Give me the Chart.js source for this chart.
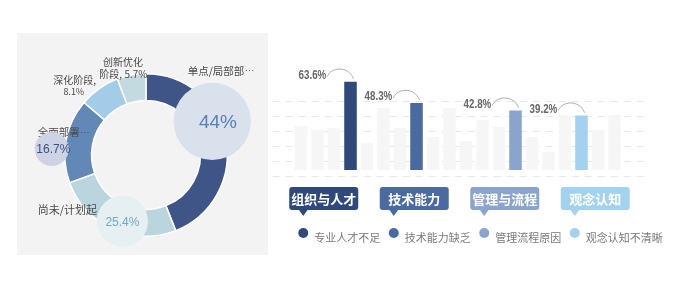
<!DOCTYPE html>
<html>
<head>
<meta charset="utf-8">
<script src="https://cdn.jsdelivr.net/npm/chart.js@4.4.1/dist/chart.umd.min.js"></script>
<style>
  html, body { margin: 0; padding: 0; background: #fff; width: 680px; height: 297px; overflow: hidden; }
  #pieBox { position: absolute; left: 17px; top: 33px; width: 251px; height: 222px; background: #f3f3f3; }
  #barBox { position: absolute; left: 270px; top: 0; width: 410px; height: 297px; }
</style>
</head>
<body>
<div id="pieBox"><canvas id="pie" width="251" height="222"></canvas></div>
<div id="barBox"><canvas id="bar" width="410" height="297"></canvas></div>
<script>
// 阶段分布
const stageLabels = ['单点/局部部署', '尚未/计划起步', '全面部署', '深化阶段', '创新优化阶段'];
const stageValues = [44, 25.4, 16.7, 8.1, 5.7];
const stageColors = ['#3f5588', '#bad5dd', '#6188b7', '#a3cce8', '#c3dae1'];

// 原因分布
const reasonGroups = ['组织与人才', '技术能力', '管理与流程', '观念认知'];
const reasonLabels = ['专业人才不足', '技术能力缺乏', '管理流程原因', '观念认知不清晰'];
const reasonValues = [63.6, 48.3, 42.8, 39.2];
const reasonColors = ['#2f4a7a', '#4a6aa2', '#8aa4cd', '#a3d2f0'];

// 背景装饰柱 (20 个位置), 真实柱在 reasonSlots
const slotBg = [31.7, 29, 30, null, 19.4, 44.6, 30.2, null, 23.8, 44.6, 20.9, 36, 31, null, 23.8, 13, 39.6, null, 28.8, 39.6];
const reasonSlots = [3, 7, 13, 17];

const CJK = '"Noto Sans CJK SC", "Noto Sans", sans-serif';
const LAT = '"Liberation Sans", Arial, sans-serif';

// === 环形图 ===
const pieNotes = [
  { text: stageLabels[0].slice(0, 6), more: true, dx: 0.92, dy: -1.037, align: 'center', size: 10.5 },
  { text: stageLabels[1].slice(0, 6), dx: -1.333, dy: 0.679, align: 'left', size: 11 },
  { text: stageLabels[2], more: true, dx: -1.333, dy: -0.284, align: 'left', size: 10.5 },
  { text: stageLabels[3] + ',', dx: -0.877, dy: -0.926, align: 'center', size: 10 },
  { text: stageValues[3] + '%', dx: -0.889, dy: -0.778, align: 'center', size: 9 },
  { text: stageLabels[4].slice(0, 4), dx: -0.284, dy: -1.148, align: 'center', size: 10 },
  { text: stageLabels[4].slice(4) + ', ' + stageValues[4] + '%', dx: -0.278, dy: -1.0, align: 'center', size: 10 }
];

const pieBubbles = [
  { i: 0, dx: 0.815, dy: -0.414, r: 0.475, tx: 0.07, fill: '#d8e1ec', color: '#5b80b5', font: '19px ' + LAT },
  { i: 1, dx: -0.29, dy: 0.815, r: 0.315, tx: 0, fill: '#e6eff2', color: '#6eaac4', font: '12px ' + LAT },
  { i: 2, dx: -1.16, dy: -0.074, r: 0.21, tx: 0.02, fill: '#cdd2e4', color: '#3d4f86', font: '12px ' + LAT }
];

const pieDecor = {
  id: 'pieDecor',
  afterDatasetsDraw(chart) {
    const ctx = chart.ctx;
    const arc = chart.getDatasetMeta(0).data[0];
    const cx = arc.x, cy = arc.y, R = arc.outerRadius;
    ctx.save();
    ctx.textBaseline = 'middle';
    ctx.textAlign = 'left';
    ctx.fillStyle = '#4a4a4a';
    pieNotes.forEach(n => {
      const fMain = n.size + 'px ' + CJK, fDots = (n.size - 1) + 'px ' + LAT;
      ctx.font = fMain;
      const w1 = ctx.measureText(n.text).width;
      ctx.font = fDots;
      const w2 = n.more ? ctx.measureText('···').width : 0;
      let x = cx + n.dx * R;
      const y = cy + n.dy * R;
      if (n.align === 'center') x -= (w1 + w2) / 2;
      ctx.font = fMain;
      ctx.fillText(n.text, x, y);
      if (n.more) {
        ctx.font = fDots;
        ctx.fillText('···', x + w1 + 0.5, y);
      }
    });
    pieBubbles.forEach(b => {
      const x = cx + b.dx * R, y = cy + b.dy * R;
      ctx.beginPath();
      ctx.arc(x, y, b.r * R, 0, Math.PI * 2);
      ctx.fillStyle = b.fill;
      ctx.fill();
      ctx.fillStyle = b.color;
      ctx.font = b.font;
      ctx.textAlign = 'center';
      ctx.fillText(stageValues[b.i] + '%', x + b.tx * R, y + 1);
    });
    ctx.restore();
  }
};

new Chart(document.getElementById('pie'), {
  type: 'doughnut',
  data: {
    labels: stageLabels,
    datasets: [{ data: stageValues, backgroundColor: stageColors, borderColor: '#ffffff', borderWidth: 1.5 }]
  },
  options: {
    responsive: false,
    animation: false,
    cutout: '67%',
    layout: { padding: { left: 47, right: 40, top: 40, bottom: 18 } },
    plugins: { legend: { display: false }, tooltip: { enabled: false } }
  },
  plugins: [pieDecor]
});

// === 柱状图 ===
const slotValues = slotBg.map((_, i) => { const k = reasonSlots.indexOf(i); return k < 0 ? null : reasonValues[k]; });
const slotColors = slotBg.map((_, i) => { const k = reasonSlots.indexOf(i); return k < 0 ? 'transparent' : reasonColors[k]; });

const barDecor = {
  id: 'barDecor',
  beforeDatasetsDraw(chart) {
    const { ctx, chartArea: a } = chart;
    const g = chart.scales.g;
    ctx.save();
    ctx.strokeStyle = '#e8e8e8';
    ctx.lineWidth = 1;
    ctx.setLineDash([7, 6]);
    for (let k = 0; k <= 5; k++) {
      const y = Math.round(g.getPixelForValue(k)) + 0.5;
      ctx.beginPath();
      ctx.moveTo(a.left - 20, y);
      ctx.lineTo(a.right + 25, y);
      ctx.stroke();
    }
    ctx.restore();
  },
  afterDatasetsDraw(chart) {
    const { ctx, chartArea: a } = chart;
    const meta = chart.getDatasetMeta(0);
    ctx.save();
    reasonSlots.forEach((s, i) => {
      const el = meta.data[s];
      const rx = el.x - el.width / 2 - 18, my = el.y - 6;

      // 连线
      ctx.strokeStyle = '#9a9a9a';
      ctx.lineWidth = 0.8;
      ctx.beginPath();
      ctx.moveTo(rx + 1, my + 1);
      ctx.bezierCurveTo(rx + 5, my - 9, el.x - 2, my - 10, el.x + 3, el.y - 3);
      ctx.stroke();

      // 数值
      ctx.save();
      ctx.translate(rx, my);
      ctx.scale(0.75, 1);
      ctx.font = 'bold 13px "Liberation Sans Narrow", "Liberation Sans", sans-serif';
      ctx.fillStyle = '#666';
      ctx.textAlign = 'right';
      ctx.textBaseline = 'middle';
      ctx.fillText(reasonValues[i].toFixed(1) + '%', 0, 0);
      ctx.restore();

      // 分类标签框
      const bx = a.left - 3.5 + i * 90.5, by = 187, bw = 69, bh = 23;
      const px = bx + 14;
      ctx.fillStyle = reasonColors[i];
      ctx.beginPath();
      ctx.roundRect(bx, by, bw, bh, 3);
      ctx.fill();
      ctx.beginPath();
      ctx.moveTo(px - 5, by + bh - 1);
      ctx.lineTo(px + 5, by + bh - 1);
      ctx.lineTo(px, by + bh + 6);
      ctx.closePath();
      ctx.fill();
      ctx.fillStyle = '#fff';
      ctx.font = 'bold 13px ' + CJK;
      ctx.textAlign = 'center';
      ctx.textBaseline = 'middle';
      ctx.fillText(reasonGroups[i], bx + bw / 2, by + bh / 2 + 1);

      // 图例
      const lx = bx + 14, ly = 233;
      ctx.fillStyle = reasonColors[i];
      ctx.beginPath();
      ctx.arc(lx, ly, 5, 0, Math.PI * 2);
      ctx.fill();
      ctx.fillStyle = '#7a7a7a';
      ctx.font = '11px ' + CJK;
      ctx.textAlign = 'left';
      ctx.fillText(reasonLabels[i], lx + 11, ly + 5);
    });
    ctx.restore();
  }
};

new Chart(document.getElementById('bar'), {
  type: 'bar',
  data: {
    labels: slotBg.map((_, i) => String(i)),
    datasets: [
      { data: slotValues, backgroundColor: slotColors, grouped: false, order: 0 },
      { data: slotBg, backgroundColor: '#f6f6f6', grouped: false, order: 1 }
    ]
  },
  options: {
    responsive: false,
    animation: false,
    categoryPercentage: 1,
    barPercentage: 0.76,
    layout: { padding: { left: 22.75, right: 57.25, top: 70, bottom: 127 } },
    scales: {
      x: { display: false },
      y: { display: false, min: 0, max: 72 },
      g: { type: 'linear', axis: 'y', display: false, min: 0.4, max: 7.067 }
    },
    plugins: { legend: { display: false }, tooltip: { enabled: false } }
  },
  plugins: [barDecor]
});
</script>
</body>
</html>
